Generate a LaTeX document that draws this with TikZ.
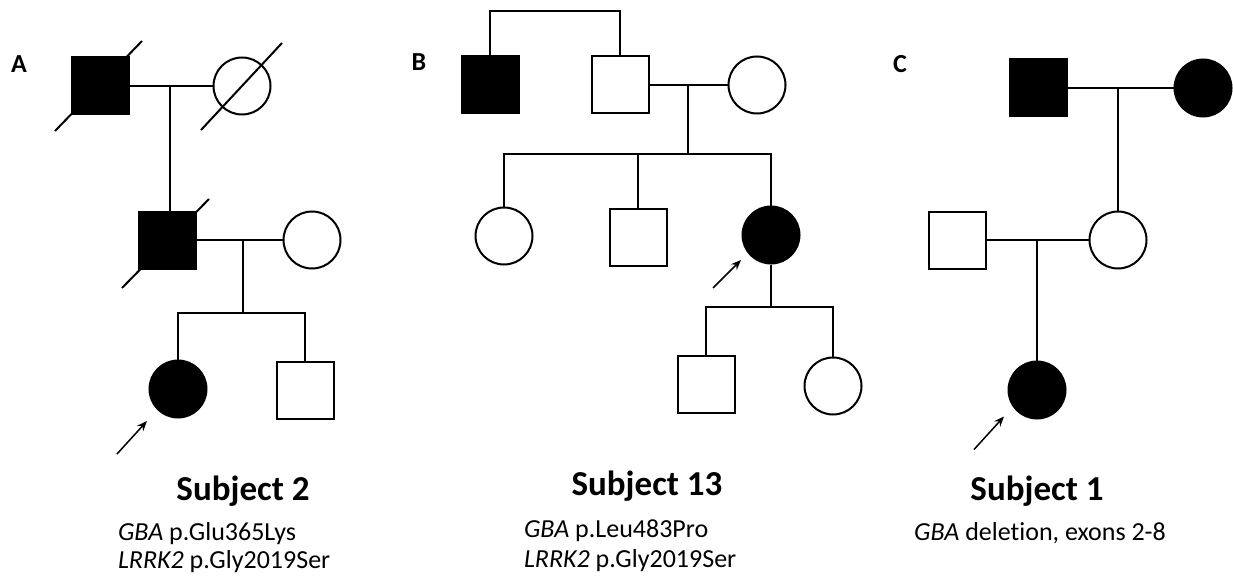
\documentclass[tikz,border=0pt]{standalone}
\usepackage{fontspec}
\setmainfont{Carlito}[Ligatures=NoCommon]
\usetikzlibrary{arrows.meta,calc}
\begin{document}
\begin{tikzpicture}[x=1pt,y=-1pt,
  line width=2pt,
  male/.style={draw, rectangle, minimum size=57pt, inner sep=0pt},
  female/.style={draw, circle, minimum size=57pt, inner sep=0pt},
  aff/.style={fill=black},
  proband/.style={-{Stealth[length=10pt,width=8pt]}, line width=1.5pt},
  title/.style={font=\fontsize{35}{42}\selectfont\bfseries, anchor=base, inner sep=0pt},
  gene/.style={font=\fontsize{26}{31}\selectfont, anchor=base west, inner sep=0pt},
  panel/.style={font=\fontsize{26}{30}\selectfont\bfseries, anchor=base, inner sep=0pt}
]
\useasboundingbox (0,0) rectangle (1233,580);

% ---------- Panel A ----------
\node[panel] (lA) at (19,73) {A};
\node[male,aff] (A1) at (100,86) {};
\node[female] (A2) at (242,86) {};
\coordinate (mA) at (170,86);
\draw (A1) -- (A2);
\node[male,aff] (A3) at (167,240) {};
\node[female] (A4) at (312,240) {};
\draw (mA) -- (mA |- A3.north);
\draw (A3) -- (A4);
\coordinate (mA2) at (243,240);
\coordinate (sA) at (243,313);
\draw (mA2) -- (sA);
\node[female,aff] (A5) at (178,389) {};
\node[male] (A6) at (305,390) {};
\draw (A5.north) |- (sA) -| (A6.north);
\draw ($(A1)+(-45,45)$) -- ($(A1)+(42,-45)$);
\draw ($(A2)+(-41,44)$) -- ($(A2)+(40,-43)$);
\draw ($(A3)+(-45,48)$) -- ($(A3)+(42,-41)$);
\draw[proband] ($(A5)+(-61,65)$) -- ($(A5)+(-31,32)$);
\node[title] (tA) at (243,500) {Subject 2};
\node[gene] (gA1) at (117,540.5) {\textit{GBA} p.Glu365Lys};
\node[gene] (gA2) at (117,568.5) {\textit{LRRK2} p.Gly2019Ser};

% ---------- Panel B ----------
\node[panel] (lB) at (419,71) {B};
\node[male,aff] (B1) at (490,85) {};
\node[male] (B2) at (620,85) {};
\node[female] (B3) at (757,85) {};
\coordinate (sB0) at (555,11);
\draw (B1.north) |- (sB0) -| (B2.north);
\draw (B2) -- (B3);
\coordinate (mB) at (688,85);
\coordinate (sB) at (688,154);
\draw (mB) -- (sB);
\node[female] (B4) at (504,236) {};
\node[male] (B5) at (638,237) {};
\node[female,aff] (B6) at (771,235) {};
\draw (B4.north) |- (sB) -| (B6.north);
\draw (B5.north) -- (B5.north |- sB);
\draw[proband] ($(B6)+(-58,53)$) -- ($(B6)+(-30,25)$);
\coordinate (sB2) at (771,307);
\draw (B6.south) -- (sB2);
\node[male] (B7) at (706,384) {};
\node[female] (B8) at (833,386) {};
\draw (B7.north) |- (sB2) -| (B8.north);
\node[title] (tB) at (647,495) {Subject 13};
\node[gene] (gB1) at (523,537) {\textit{GBA} p.Leu483Pro};
\node[gene] (gB2) at (523,567) {\textit{LRRK2} p.Gly2019Ser};

% ---------- Panel C ----------
\node[panel] (lC) at (900,73) {C};
\node[male,aff] (C1) at (1038,88) {};
\node[female,aff] (C2) at (1203,88) {};
\draw (C1) -- (C2);
\coordinate (mC) at (1118,88);
\node[male] (C3) at (957,240) {};
\node[female] (C4) at (1118,240) {};
\draw (mC) -- (C4.north);
\draw (C3) -- (C4);
\coordinate (mC2) at (1037,240);
\node[female,aff] (C5) at (1037,390) {};
\draw (mC2) -- (C5.north);
\draw[proband] ($(C5)+(-63,59.5)$) -- ($(C5)+(-33,26.5)$);
\node[title] (tC) at (1037,500) {Subject 1};
\node[gene, anchor=base] (gC) at (1040,540) {\textit{GBA} deletion, exons 2-8};
\end{tikzpicture}
\end{document}
